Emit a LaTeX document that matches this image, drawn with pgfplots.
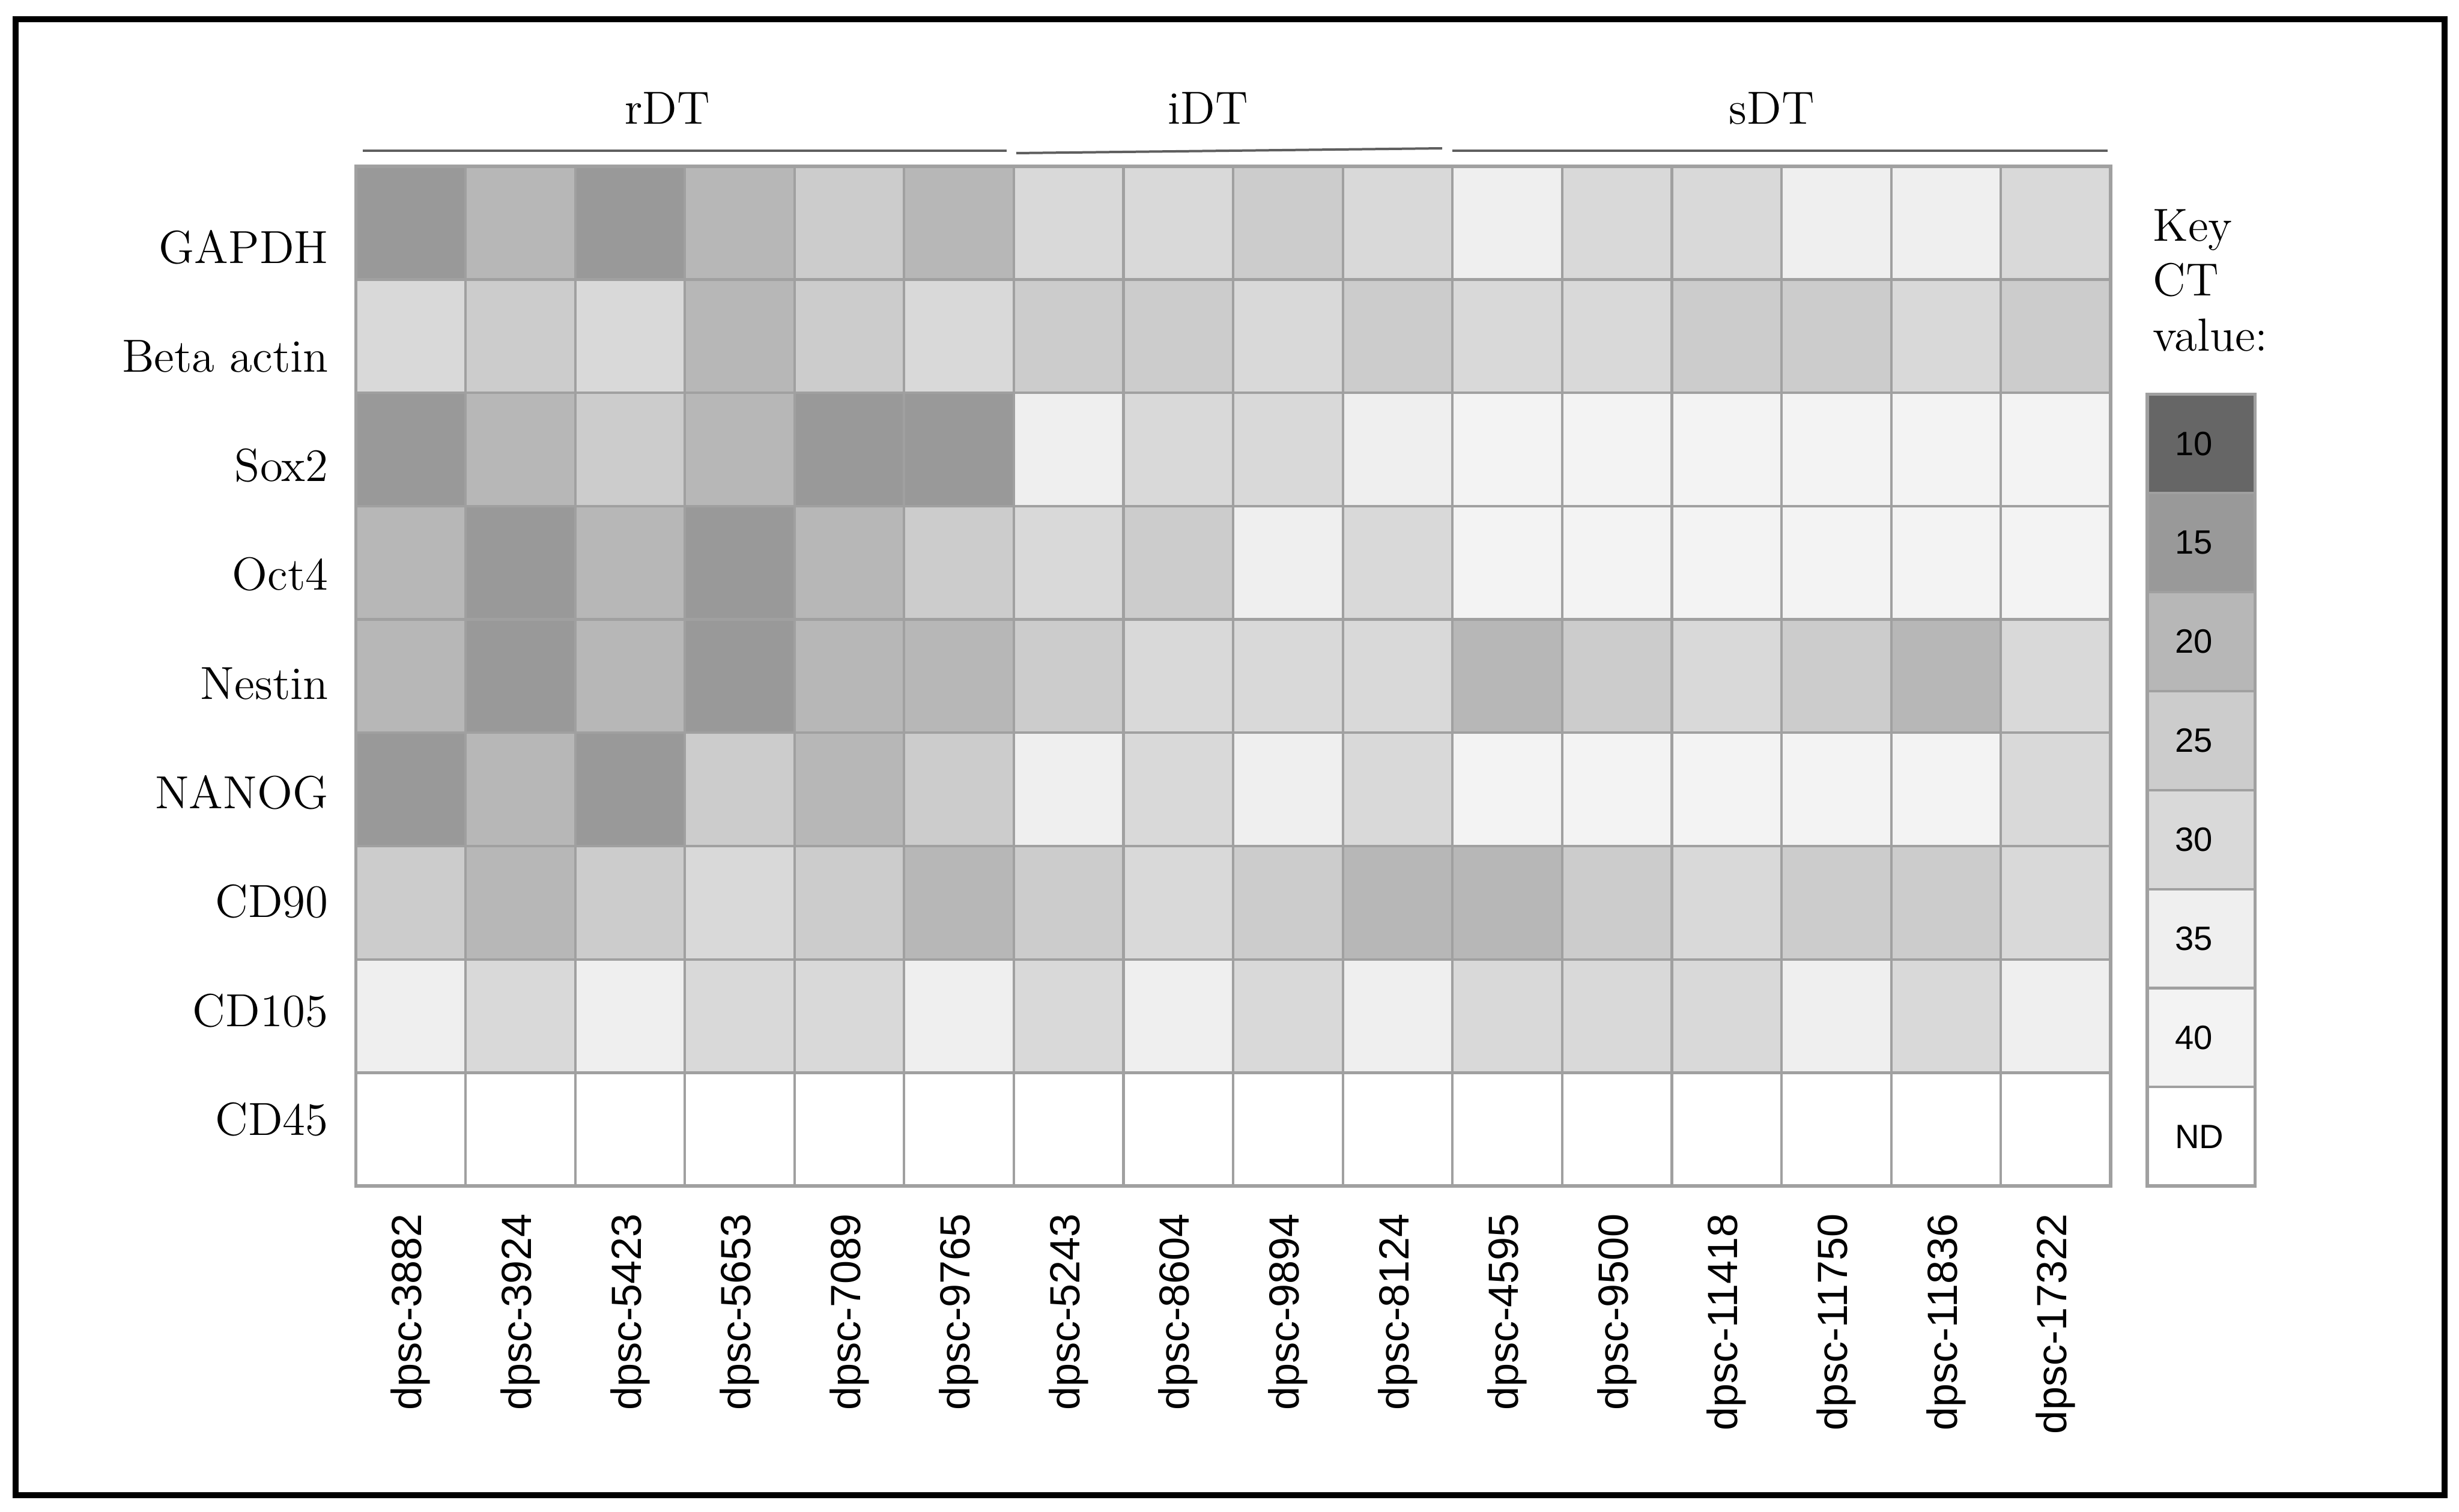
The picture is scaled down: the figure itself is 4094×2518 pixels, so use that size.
\documentclass[border=0pt]{standalone}
\usepackage{fontspec}
\usepackage{pgfplots}
\pgfplotsset{compat=1.18}
\newfontfamily\sansf{Liberation Sans}
\definecolor{gridgray}{RGB}{160,160,160}
\definecolor{linegray}{RGB}{95,95,95}
% colormap: constant plateaus, one per CT class (10,15,20,25,30,35,40,ND)
\pgfplotsset{
  colormap={ctmap}{
    rgb255(0pt)=(102,102,102) rgb255(9pt)=(102,102,102)
    rgb255(10pt)=(153,153,153) rgb255(19pt)=(153,153,153)
    rgb255(20pt)=(183,183,183) rgb255(29pt)=(183,183,183)
    rgb255(30pt)=(204,204,204) rgb255(39pt)=(204,204,204)
    rgb255(40pt)=(217,217,217) rgb255(49pt)=(217,217,217)
    rgb255(50pt)=(239,239,239) rgb255(59pt)=(239,239,239)
    rgb255(60pt)=(243,243,243) rgb255(69pt)=(243,243,243)
    rgb255(70pt)=(255,255,255) rgb255(79pt)=(255,255,255)
  }
}
\begin{document}
\begin{tikzpicture}
\begin{scope}[x=0.005cm,y=-0.005cm]
\path[use as bounding box] (0,0) rectangle (4094,2518);
\end{scope}
% main heatmap (ND coded as 45)
\begin{axis}[
  at={(2.965cm,-1.385cm)}, anchor=north west,
  scale only axis, width=14.62cm, height=8.5cm,
  xmin=-0.5, xmax=15.5, ymin=-0.5, ymax=8.5, y dir=reverse,
  colormap name=ctmap, point meta min=7.75, point meta max=47.25,
  axis on top,
  axis line style={draw=gridgray, line width=0.8pt},
  xtick={0,...,15},
  xticklabels={dpsc-3882,dpsc-3924,dpsc-5423,dpsc-5653,dpsc-7089,dpsc-9765,dpsc-5243,dpsc-8604,dpsc-9894,dpsc-8124,dpsc-4595,dpsc-9500,dpsc-11418,dpsc-11750,dpsc-11836,dpsc-17322},
  xticklabel style={rotate=90, anchor=east, font=\sansf\fontsize{10}{12}\selectfont},
  xticklabel shift=3pt,
  ytick={0.214,1.177,2.139,3.101,4.064,5.026,5.988,6.951,7.913},
  yticklabels={GAPDH,Beta actin,Sox2,Oct4,Nestin,NANOG,CD90,CD105,CD45},
  yticklabel style={font=\fontsize{11}{13}\selectfont},
  yticklabel shift=3pt,
  minor xtick={-0.5,0.5,...,15.5},
  minor ytick={-0.5,0.5,...,8.5},
  xminorgrids=true, yminorgrids=true,
  minor grid style={draw=gridgray, line width=0.6pt},
  major tick length=0pt, minor tick length=0pt,
]
\addplot[matrix plot*, mesh/cols=16, point meta=explicit] coordinates {
(0,0)[15] (1,0)[20] (2,0)[15] (3,0)[20] (4,0)[25] (5,0)[20] (6,0)[30] (7,0)[30] (8,0)[25] (9,0)[30] (10,0)[35] (11,0)[30] (12,0)[30] (13,0)[35] (14,0)[35] (15,0)[30]
(0,1)[30] (1,1)[25] (2,1)[30] (3,1)[20] (4,1)[25] (5,1)[30] (6,1)[25] (7,1)[25] (8,1)[30] (9,1)[25] (10,1)[30] (11,1)[30] (12,1)[25] (13,1)[25] (14,1)[30] (15,1)[25]
(0,2)[15] (1,2)[20] (2,2)[25] (3,2)[20] (4,2)[15] (5,2)[15] (6,2)[35] (7,2)[30] (8,2)[30] (9,2)[35] (10,2)[40] (11,2)[40] (12,2)[40] (13,2)[40] (14,2)[40] (15,2)[40]
(0,3)[20] (1,3)[15] (2,3)[20] (3,3)[15] (4,3)[20] (5,3)[25] (6,3)[30] (7,3)[25] (8,3)[35] (9,3)[30] (10,3)[40] (11,3)[40] (12,3)[40] (13,3)[40] (14,3)[40] (15,3)[40]
(0,4)[20] (1,4)[15] (2,4)[20] (3,4)[15] (4,4)[20] (5,4)[20] (6,4)[25] (7,4)[30] (8,4)[30] (9,4)[30] (10,4)[20] (11,4)[25] (12,4)[30] (13,4)[25] (14,4)[20] (15,4)[30]
(0,5)[15] (1,5)[20] (2,5)[15] (3,5)[25] (4,5)[20] (5,5)[25] (6,5)[35] (7,5)[30] (8,5)[35] (9,5)[30] (10,5)[40] (11,5)[40] (12,5)[40] (13,5)[40] (14,5)[40] (15,5)[30]
(0,6)[25] (1,6)[20] (2,6)[25] (3,6)[30] (4,6)[25] (5,6)[20] (6,6)[25] (7,6)[30] (8,6)[25] (9,6)[20] (10,6)[20] (11,6)[25] (12,6)[30] (13,6)[25] (14,6)[25] (15,6)[30]
(0,7)[35] (1,7)[30] (2,7)[35] (3,7)[30] (4,7)[30] (5,7)[35] (6,7)[30] (7,7)[35] (8,7)[30] (9,7)[35] (10,7)[30] (11,7)[30] (12,7)[30] (13,7)[35] (14,7)[30] (15,7)[35]
(0,8)[45] (1,8)[45] (2,8)[45] (3,8)[45] (4,8)[45] (5,8)[45] (6,8)[45] (7,8)[45] (8,8)[45] (9,8)[45] (10,8)[45] (11,8)[45] (12,8)[45] (13,8)[45] (14,8)[45] (15,8)[45]
};
\end{axis}
% key
\begin{axis}[
  at={(17.89cm,-3.285cm)}, anchor=north west,
  scale only axis, width=0.9cm, height=6.6cm,
  xmin=-0.5, xmax=1.5, ymin=-0.5, ymax=7.5, y dir=reverse,
  colormap name=ctmap, point meta min=7.75, point meta max=47.25,
  axis on top,
  axis line style={draw=gridgray, line width=0.8pt},
  xtick=\empty,
  ytick={0.5,1.5,2.5,3.5,4.5,5.5,6.5}, yticklabels={},
  ymajorgrids=true,
  major grid style={draw=gridgray, line width=0.6pt},
  major tick length=0pt,
]
\addplot[matrix plot*, mesh/cols=2, point meta=explicit] coordinates {
(0,0)[10] (1,0)[10]
(0,1)[15] (1,1)[15]
(0,2)[20] (1,2)[20]
(0,3)[25] (1,3)[25]
(0,4)[30] (1,4)[30]
(0,5)[35] (1,5)[35]
(0,6)[40] (1,6)[40]
(0,7)[45] (1,7)[45]
};
\foreach \lab [count=\i from 0] in {10,15,20,25,30,35,40,ND}{
  \edef\temp{\noexpand\node[anchor=west, inner sep=0pt, xshift=0.225cm, font=\noexpand\sansf\noexpand\fontsize{8}{10}\noexpand\selectfont] at (axis cs:-0.5,\i) {\lab};}
  \temp
}
\end{axis}
\begin{scope}[x=0.005cm,y=-0.005cm]
\draw[line width=0.05cm] (26,32) rectangle (4070,2490);
\draw[linegray, line width=0.02cm] (604,251) -- (1676,251);
\draw[linegray, line width=0.02cm] (1692,255) -- (2401,247);
\draw[linegray, line width=0.02cm] (2418,251) -- (3509,251);
\node[anchor=base, font=\fontsize{11}{13}\selectfont] at (1111,207) {rDT};
\node[anchor=base, font=\fontsize{11}{13}\selectfont] at (2011,207) {iDT};
\node[anchor=base, font=\fontsize{11}{13}\selectfont] at (2950,207) {sDT};
\node[anchor=base west, inner sep=0pt, font=\fontsize{11}{13}\selectfont] at (3583,402) {Key};
\node[anchor=base west, inner sep=0pt, font=\fontsize{11}{13}\selectfont] at (3583,493) {CT};
\node[anchor=base west, inner sep=0pt, font=\fontsize{11}{13}\selectfont] at (3583,585) {value:};
\end{scope}
\end{tikzpicture}
\end{document}
